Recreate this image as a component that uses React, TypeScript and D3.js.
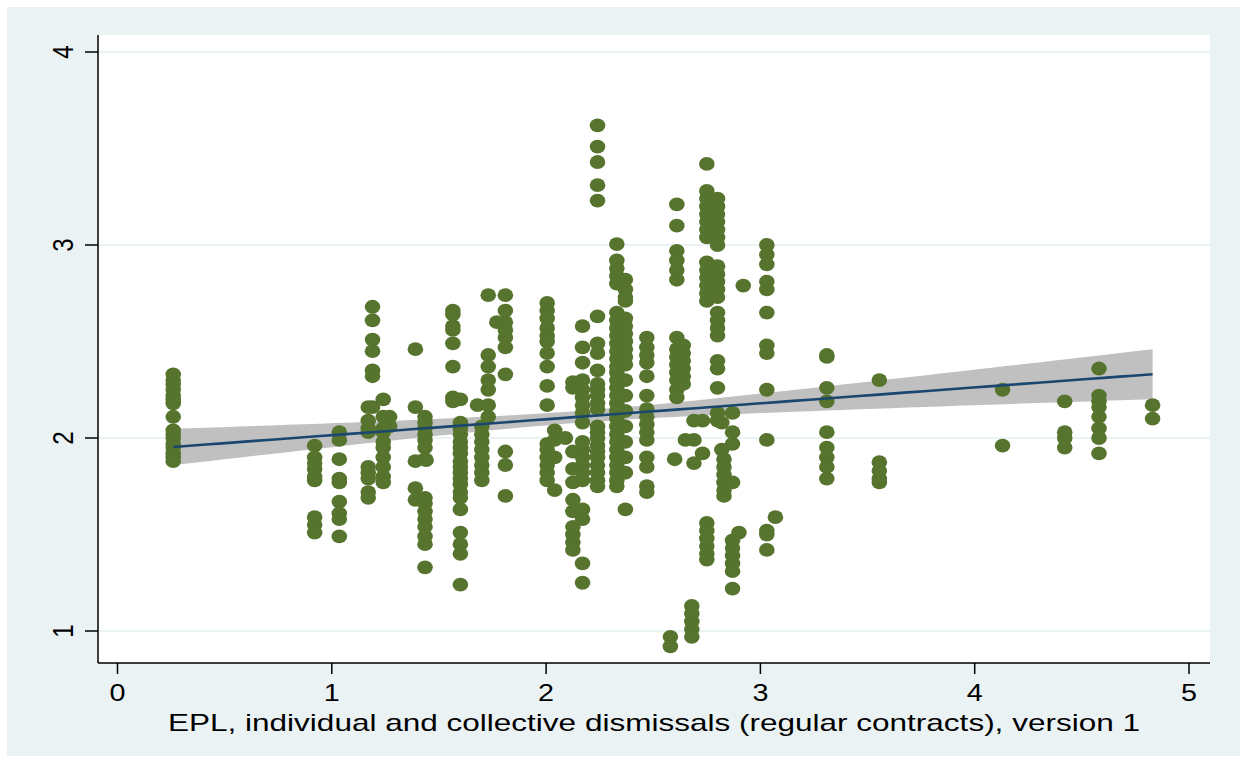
import React from "react";
import * as d3 from "d3";

// ---------- data ----------
const columnX: number[] = [
  0.26, 0.92, 1.035, 1.17, 1.19, 1.24, 1.27, 1.39, 1.44, 1.435,
  1.565, 1.6, 1.68, 1.70, 1.73, 1.77, 1.81, 2.005, 2.04, 2.09,
  2.125, 2.17, 2.24, 2.33, 2.37, 2.47, 2.61, 2.64, 2.58, 2.6,
  2.65, 2.69, 2.73, 2.68, 2.75, 2.8, 2.82, 2.83, 2.87, 2.92,
  2.9, 3.03, 3.07, 3.31, 3.555, 4.13, 4.42, 4.58, 4.83,
];

const columnY: number[][] = [
  [2.33, 2.3, 2.28, 2.25, 2.22, 2.2, 2.18, 2.11, 2.04, 2.02, 2.0, 1.97, 1.95, 1.92, 1.9, 1.88],
  [1.96, 1.9, 1.87, 1.84, 1.8, 1.78, 1.59, 1.55, 1.51],
  [2.03, 1.99, 1.89, 1.79, 1.77, 1.67, 1.61, 1.58, 1.49],
  [2.16, 2.09, 2.05, 2.03, 1.85, 1.82, 1.79, 1.72, 1.69],
  [2.68, 2.61, 2.51, 2.45, 2.35, 2.32, 2.16],
  [2.2, 2.11, 2.05, 2.03, 1.98, 1.95, 1.9, 1.85, 1.8, 1.77],
  [2.11, 2.06],
  [2.46, 2.16, 1.88, 1.74, 1.68],
  [1.885],
  [2.11, 2.08, 2.05, 2.02, 1.99, 1.95, 1.89, 1.69, 1.66, 1.62, 1.58, 1.54, 1.49, 1.45, 1.33],
  [2.66, 2.64, 2.58, 2.56, 2.49, 2.37, 2.21, 2.19],
  [2.2, 2.08, 2.05, 2.02, 1.98, 1.95, 1.92, 1.88, 1.85, 1.82, 1.79, 1.76, 1.72, 1.69, 1.63, 1.51, 1.45, 1.4, 1.24],
  [2.17],
  [2.06, 2.02, 1.98, 1.94, 1.9, 1.86, 1.82, 1.78],
  [2.74, 2.43, 2.37, 2.3, 2.25, 2.17, 2.11],
  [2.6],
  [2.74, 2.66, 2.6, 2.56, 2.52, 2.47, 2.33, 1.93, 1.86, 1.7],
  [2.7, 2.66, 2.62, 2.57, 2.53, 2.5, 2.44, 2.37, 2.27, 2.17, 1.97, 1.94, 1.9, 1.86, 1.82, 1.78],
  [2.04, 1.99, 1.9, 1.73],
  [2.0],
  [2.29, 2.26, 1.93, 1.84, 1.77, 1.68, 1.62, 1.54, 1.5, 1.46, 1.42],
  [2.58, 2.47, 2.39, 2.3, 2.25, 2.21, 2.17, 2.13, 2.08, 1.98, 1.94, 1.9, 1.86, 1.82, 1.78, 1.63, 1.58, 1.35, 1.25],
  [3.62, 3.51, 3.43, 3.31, 3.23, 2.63, 2.49, 2.44, 2.35, 2.28, 2.25, 2.22, 2.18, 2.15, 2.06, 2.03, 2.0, 1.96, 1.93, 1.9, 1.86, 1.82, 1.78, 1.75],
  [3.005, 2.92, 2.88, 2.84, 2.8, 2.65, 2.61, 2.57, 2.53, 2.49, 2.45, 2.41, 2.37, 2.34, 2.3, 2.26, 2.22, 2.18, 2.14, 2.1, 2.06, 2.02, 1.98, 1.94, 1.9, 1.86, 1.82, 1.78, 1.75],
  [2.82, 2.77, 2.73, 2.71, 2.62, 2.58, 2.54, 2.5, 2.46, 2.42, 2.38, 2.3, 2.22, 2.14, 2.06, 1.98, 1.9, 1.82, 1.63],
  [2.52, 2.47, 2.43, 2.39, 2.32, 2.22, 2.15, 2.11, 2.07, 2.03, 1.99, 1.9, 1.85, 1.75, 1.72],
  [3.21, 3.1, 2.97, 2.92, 2.87, 2.82, 2.52, 2.46, 2.42, 2.38, 2.34, 2.3, 2.25, 2.21],
  [2.48, 2.44, 2.4, 2.36, 2.32, 2.28],
  [0.97, 0.92],
  [1.89],
  [1.99],
  [2.09, 1.99, 1.87],
  [2.09, 1.92],
  [1.13, 1.09, 1.05, 1.01, 0.97],
  [3.42, 3.28, 3.24, 3.2, 3.16, 3.12, 3.08, 3.04, 2.91, 2.87, 2.83, 2.79, 2.75, 2.71, 1.56, 1.52, 1.48, 1.44, 1.4, 1.37],
  [3.24, 3.2, 3.16, 3.12, 3.08, 3.04, 3.0, 2.89, 2.85, 2.81, 2.77, 2.73, 2.65, 2.61, 2.57, 2.53, 2.4, 2.36, 2.26, 2.13, 2.09],
  [2.08, 1.94],
  [1.89, 1.85, 1.81, 1.77, 1.73, 1.7],
  [2.13, 2.03, 1.97, 1.77, 1.47, 1.43, 1.39, 1.35, 1.31, 1.22],
  [2.79],
  [1.51],
  [3.0, 2.95, 2.9, 2.81, 2.77, 2.65, 2.48, 2.44, 2.25, 1.99, 1.52, 1.5, 1.42],
  [1.59],
  [2.43, 2.42, 2.26, 2.19, 2.03, 1.95, 1.9, 1.85, 1.79],
  [2.3, 1.875, 1.83, 1.79, 1.77],
  [2.25, 1.96],
  [2.19, 2.03, 2.0, 1.95],
  [2.36, 2.22, 2.19, 2.16, 2.11, 2.05, 2.0, 1.92],
  [2.17, 2.1],
];

// linear fit with 95% CI
const fitIntercept = 1.932;
const fitSlope = 0.0825;
const fitXMean = 2.15;
const ciBase = 0.00095; // variance term at mean
const ciSlope = 0.0022; // variance growth per squared distance
const fitRange = [0.26, 4.83];

const xTicks = [0, 1, 2, 3, 4, 5];
const yTicks = [1, 2, 3, 4];
const xTitle = "EPL, individual and collective dismissals (regular contracts), version 1";

// ---------- layout ----------
const W = 1246;
const H = 762;
const plotL = 98;
const plotR = 1210;
const plotT = 35;
const plotB = 663;

export default function App() {
  const x = d3.scaleLinear().domain([0, 5]).range([117.5, 1189]);
  const y = d3.scaleLinear().domain([1, 4]).range([631, 52]);

  const points: { x: number; y: number }[] = [];
  columnX.forEach((cx, i) => columnY[i].forEach((v) => points.push({ x: cx, y: v })));

  const fitXs = d3.range(0, 61).map((i) => fitRange[0] + ((fitRange[1] - fitRange[0]) * i) / 60);
  const fit = fitXs.map((v) => {
    const m = fitIntercept + fitSlope * v;
    const hw = Math.sqrt(ciBase + ciSlope * (v - fitXMean) ** 2);
    return { x: v, m, lo: m - hw, hi: m + hw };
  });

  const area = d3
    .area<{ x: number; lo: number; hi: number }>()
    .x((d) => x(d.x))
    .y0((d) => y(d.lo))
    .y1((d) => y(d.hi));
  const line = d3
    .line<{ x: number; m: number }>()
    .x((d) => x(d.x))
    .y((d) => y(d.m));

  const font = "Arial, 'Liberation Sans', Helvetica, sans-serif";

  return (
    <svg
      width={W}
      height={H}
      style={{ position: "absolute", left: 0, top: 0, background: "#ffffff" }}
    >
      <rect x={7} y={7} width={1233} height={749} fill="#EAF2F3" />
      <rect x={plotL} y={plotT} width={plotR - plotL} height={plotB - plotT} fill="#ffffff" />
      {yTicks.map((t) => (
        <line key={"g" + t} x1={plotL} x2={plotR} y1={y(t)} y2={y(t)} stroke="#EAF2F3" strokeWidth={2} />
      ))}
      <path d={area(fit) || ""} fill="#C0C0C0" />
      {points.map((p, i) => (
        <ellipse key={i} cx={x(p.x)} cy={y(p.y)} rx={7.8} ry={6.9} fill="#56742E" />
      ))}
      <path d={line(fit) || ""} fill="none" stroke="#1A476F" strokeWidth={2.6} />
      {/* axes */}
      <line x1={plotL} x2={plotL} y1={plotT} y2={plotB} stroke="#000" strokeWidth={1.5} />
      <line x1={plotL} x2={plotR} y1={plotB} y2={plotB} stroke="#000" strokeWidth={1.5} />
      {yTicks.map((t) => (
        <g key={"y" + t}>
          <line x1={85} x2={plotL} y1={y(t)} y2={y(t)} stroke="#000" strokeWidth={1.5} />
          <text
            transform={`translate(73,${y(t)}) rotate(-90) scale(1,1.25)`}
            textAnchor="middle"
            fontFamily={font}
            fontSize={24}
            fill="#000"
          >
            {t}
          </text>
        </g>
      ))}
      {xTicks.map((t) => (
        <g key={"x" + t}>
          <line x1={x(t)} x2={x(t)} y1={plotB} y2={674} stroke="#000" strokeWidth={1.5} />
          <text
            transform={`translate(${x(t)},701) scale(1.25,1)`}
            textAnchor="middle"
            fontFamily={font}
            fontSize={23}
            fill="#000"
          >
            {t}
          </text>
        </g>
      ))}
      <text
        x={654}
        y={731}
        textAnchor="middle"
        fontFamily={font}
        fontSize={24}
        fill="#000"
        textLength={972}
        lengthAdjust="spacingAndGlyphs"
      >
        {xTitle}
      </text>
    </svg>
  );
}
